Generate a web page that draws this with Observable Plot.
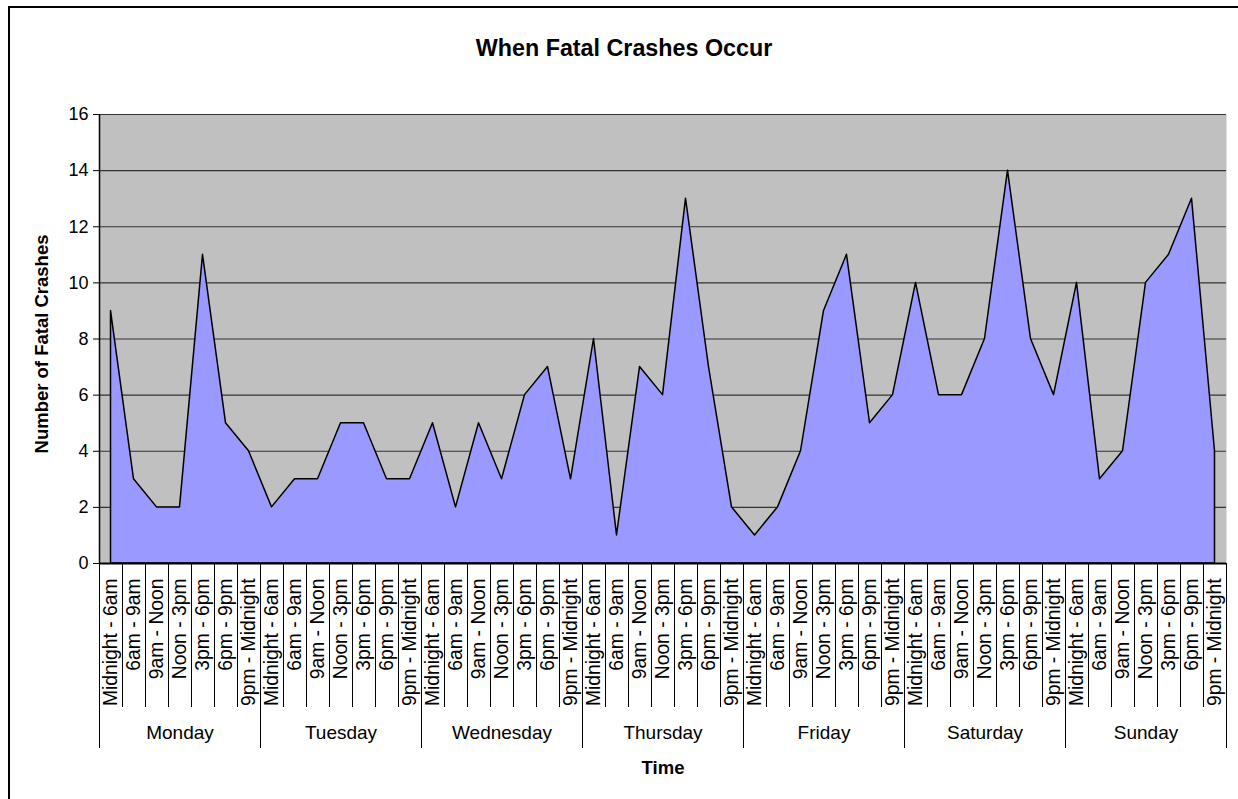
<!DOCTYPE html>
<html><head><meta charset="utf-8">
<script src="https://cdn.jsdelivr.net/npm/d3@7"></script>
<script src="https://cdn.jsdelivr.net/npm/@observablehq/plot@0.6"></script>
<style>
html,body{margin:0;padding:0;background:#fff;overflow:hidden;}
#wrap{position:relative;width:1238px;height:799px;overflow:hidden;}
#btop{position:absolute;left:8px;top:6px;width:1230px;height:2px;background:#000;}
#bleft{position:absolute;left:8px;top:6px;width:2px;height:793px;background:#000;}
#chart{position:absolute;left:0;top:0;}
</style></head><body>
<div id="wrap"><div id="btop"></div><div id="bleft"></div><div id="chart"></div></div>
<script>
const days = ["Monday", "Tuesday", "Wednesday", "Thursday", "Friday", "Saturday", "Sunday"];
const slots = ["Midnight - 6am", "6am - 9am", "9am - Noon", "Noon - 3pm", "3pm - 6pm", "6pm - 9pm", "9pm - Midnight"];
const monday = [9, 3, 2, 2, 11, 5, 4];
const tuesday = [2, 3, 3, 5, 5, 3, 3];
const wednesday = [5, 2, 5, 3, 6, 7, 3];
const thursday = [8, 1, 7, 6, 13, 7, 2];
const friday = [1, 2, 4, 9, 11, 5, 6];
const saturday = [10, 6, 6, 8, 14, 8, 6];
const sunday = [10, 3, 4, 10, 11, 13, 4];
const yTicks = [0, 2, 4, 6, 8, 10, 12, 14, 16];
const title = "When Fatal Crashes Occur";
const xTitle = "Time";
const yTitle = "Number of Fatal Crashes";

const series = [monday, tuesday, wednesday, thursday, friday, saturday, sunday];
const data = days.flatMap((day, d) => series[d].map((v, s) => ({i: d * 7 + s, day, slot: slots[s], value: v})));
const n = data.length;
const slotBounds = d3.range(n + 1).map(k => k - 0.5).filter(b => (b + 0.5) % 7 !== 0);
const dayBounds = d3.range(days.length + 1).map(k => k * 7 - 0.5);
const dayCenters = days.map((d, k) => k * 7 + 3);

const font = "'Liberation Sans', Arial, sans-serif";
const chart = Plot.plot({
  width: 1238, height: 799,
  marginTop: 114, marginBottom: 236, marginLeft: 99, marginRight: 12,
  style: {fontFamily: font, fontSize: "18px", color: "#000", background: "transparent", overflow: "visible"},
  x: {type: "linear", domain: [-0.5, n - 0.5]},
  y: {domain: [0, 16]},
  marks: [
    Plot.frame({fill: "#C0C0C0", stroke: null}),
    Plot.gridY({ticks: yTicks.slice(1), stroke: "#333", strokeOpacity: 1, strokeWidth: 1.2}),
    Plot.areaY(data, {x: "i", y: "value", fill: "#9999FF", stroke: "#000", strokeWidth: 1.5}),
    Plot.ruleY([0], {stroke: "#000", strokeWidth: 2}),
    Plot.ruleX([-0.5], {stroke: "#000", strokeWidth: 1.5}),
    Plot.axisY({ticks: yTicks, tickSize: 6, tickPadding: 5, label: null, fontSize: 18}),
    Plot.axisX({ticks: slotBounds, tickSize: 144, tickFormat: () => "", label: null}),
    Plot.axisX({ticks: dayBounds, tickSize: 185, tickFormat: () => "", label: null}),
    Plot.axisX({ticks: d3.range(n), tickSize: 0, tickPadding: 15, tickRotate: -90, textAnchor: "end", lineAnchor: "middle", tickFormat: i => slots[i % 7], label: null, fontSize: 19.3}),
    Plot.axisX({ticks: dayCenters, tickSize: 0, tickPadding: 162, tickFormat: i => days[(i - 3) / 7], label: null, fontSize: 19}),
    Plot.text([title], {frameAnchor: "top", lineAnchor: "middle", textAnchor: "middle", dx: -39, dy: -66, fontWeight: "bold", fontSize: 23.3}),
    Plot.text([xTitle], {frameAnchor: "bottom", lineAnchor: "middle", textAnchor: "middle", dy: 205, fontWeight: "bold", fontSize: 18.5}),
    Plot.text([yTitle], {frameAnchor: "left", lineAnchor: "middle", textAnchor: "middle", dx: -57, dy: 5, rotate: -90, fontWeight: "bold", fontSize: 18.5})
  ]
});
document.getElementById("chart").appendChild(chart);
</script>
</body></html>
